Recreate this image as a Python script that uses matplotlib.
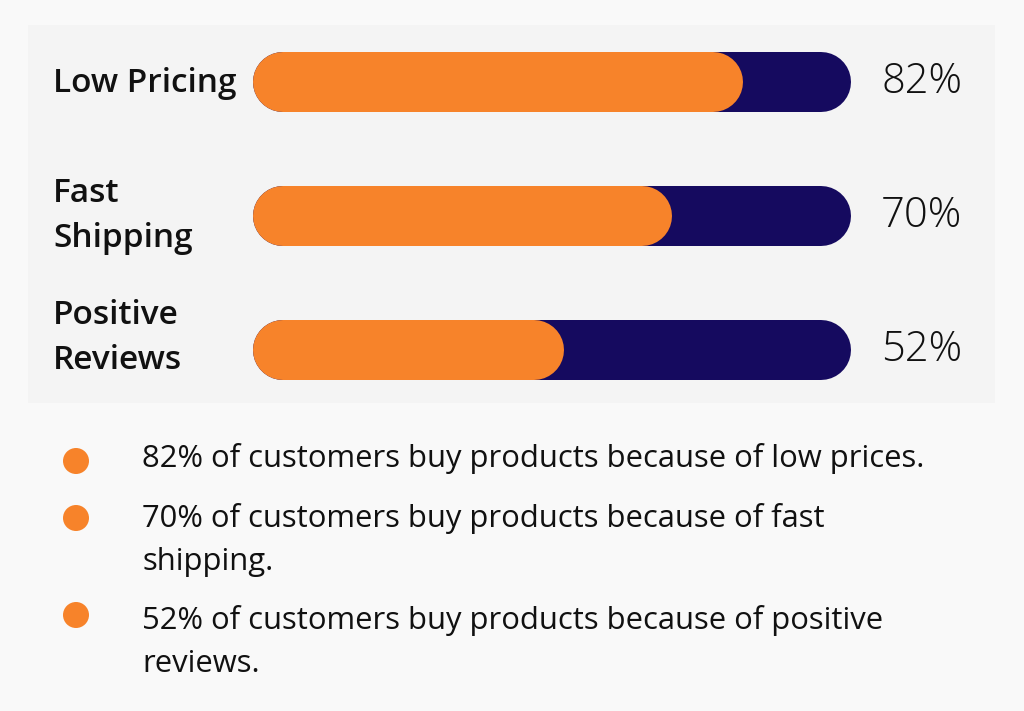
import matplotlib
matplotlib.use("Agg")
import matplotlib.pyplot as plt
from matplotlib.patches import Rectangle, Circle
from matplotlib.transforms import blended_transform_factory

# data
categories = ["Low Pricing", "Fast\nShipping", "Positive\nReviews"]
values = [82, 70, 52]
notes = [
    "82% of customers buy products because of low prices.",
    "70% of customers buy products because of fast\nshipping.",
    "52% of customers buy products because of positive\nreviews.",
]

ORANGE, NAVY, TEXT = "#f7832a", "#150a5f", "#111111"
W, H = 1024, 711

fig = plt.figure(figsize=(W / 100, H / 100), dpi=100, facecolor="#f9f9f9")

# background axes in pixel units (panel, bullets, notes)
bg = fig.add_axes([0, 0, 1, 1], zorder=0)
bg.set_xlim(0, W)
bg.set_ylim(H, 0)
bg.axis("off")
bg.add_patch(Rectangle((28, 25), 967, 378, facecolor="#f4f4f4", edgecolor="none"))

# bar axes: x in percent, spans the track 253..851 px
ax = fig.add_axes([253 / W, 1 - 417 / H, 598 / W, 402 / H], zorder=1)
ax.set_xlim(0, 100)
ax.set_ylim(len(values) - 0.5, -0.5)
ax.axis("off")
ax.patch.set_visible(False)

bar_px = 60
lw = bar_px * 72 / 100
r = (bar_px / 2) / 598 * 100  # cap radius in percent units

for i, v in enumerate(values):
    ax.plot([r, 100 - r], [i, i], color=NAVY, lw=lw, solid_capstyle="round", zorder=2)
    ax.plot([r, v - r], [i, i], color=ORANGE, lw=lw, solid_capstyle="round", zorder=3)

# label nudges (the last label sits a bit above its bar in the original)
nudge = [0.01, 0.0, -0.09]
tr = blended_transform_factory(bg.transData, ax.transData)
for i, (c, v) in enumerate(zip(categories, values)):
    ax.text(53, i + nudge[i], c, transform=tr, ha="left", va="center", fontsize=24,
            family="Open Sans", weight="semibold", color=TEXT, linespacing=1.45,
            clip_on=False)
    ax.text(881, i, f"{v}%", transform=tr, ha="left", va="center", fontsize=30,
            family="Open Sans", weight="light", color=TEXT, clip_on=False)

# bullet list
note_y = [458, 518, 620]
dot_y = [461, 518, 615]
for t, ty, dy in zip(notes, note_y, dot_y):
    bg.add_patch(Circle((76, dy), 13, facecolor=ORANGE, edgecolor="none"))
    for k, line in enumerate(t.split("\n")):
        bg.text(142, ty + 44 * k, line, ha="left", va="center", fontsize=22.3,
                family="Open Sans", color=TEXT)

fig.savefig("out.png", dpi=100, facecolor=fig.get_facecolor())
